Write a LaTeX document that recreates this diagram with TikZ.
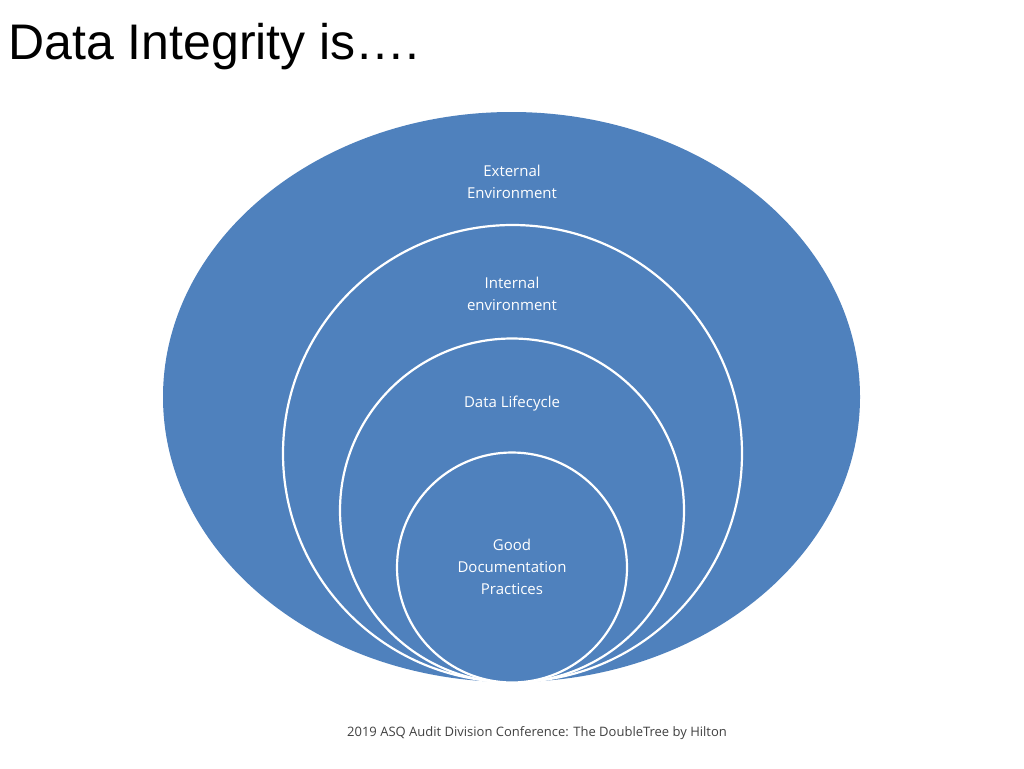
\documentclass[tikz,border=0pt]{standalone}
\usepackage{fontspec}
\setmainfont{Open Sans}
\newfontfamily\titlefont{Liberation Sans}
\definecolor{ringblue}{HTML}{4F81BD}
\begin{document}
\begin{tikzpicture}[x=1pt,y=-1pt,
	ring/.style={fill=ringblue, draw=white, line width=2.2pt},
	ringtext/.style={text=white, align=center, font=\fontsize{15}{22}\selectfont}]
	% Page frame
	\useasboundingbox (0,0) rectangle (1024,768);
	\node[anchor=west, font=\titlefont\fontsize{50}{56}\selectfont] (title) at (5,47) {Data Integrity is\dots.};
	
	% Nested rings
	\fill[ringblue] (511.5,397) ellipse [x radius=348.5, y radius=285];
	\draw[ring] (512.5,453.5) ellipse [x radius=229.5, y radius=228.5];
	\draw[ring] (512,510.5) circle [radius=172];
	\draw[ring] (512,567.5) circle [radius=115];
	
	% Ring labels
	\node[ringtext] (ext) at (512,182) {External\\Environment};
	\node[ringtext] (int) at (512,294) {Internal\\environment};
	\node[ringtext] (life) at (512,404) {Data Lifecycle};
	\node[ringtext] (gdp) at (512,567) {Good\\Documentation\\Practices};
	
	\node[text=black!75, font=\fontsize{13}{18}\selectfont] (foot) at (537,733) {2019 ASQ Audit Division Conference: The DoubleTree by Hilton};
\end{tikzpicture}
\end{document}
